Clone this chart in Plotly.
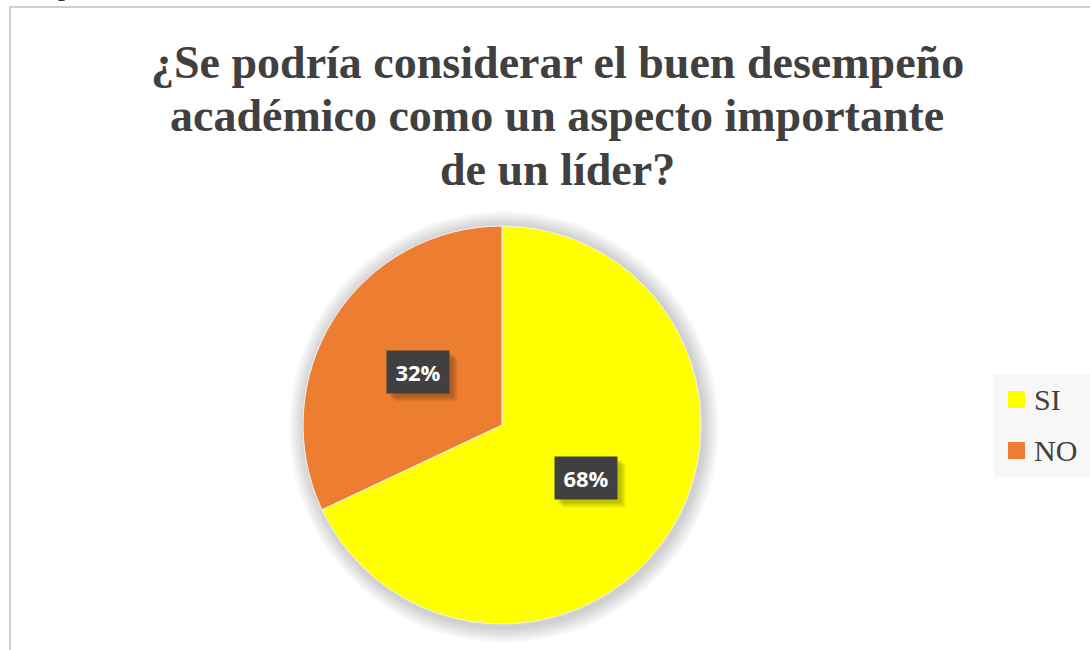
import math
import plotly.graph_objects as go

labels = ["SI", "NO"]
values = [68, 32]
colors = ["#FFFF00", "#ED7D31"]
title_lines = ["¿Se podría considerar el buen desempeño",
               "académico como un aspecto importante",
               "de un líder?"]

W, H = 1090, 650
cx, cy, R = 502, 425, 199  # pie centre/radius in pixels (from top)


def px_x(x):
    return x / W


def px_y(y):
    return (H - y) / H


dom_x = [px_x(cx - R), px_x(cx + R)]
dom_y = [px_y(cy + R), px_y(cy - R)]

fig = go.Figure(go.Pie(
    labels=labels, values=values, sort=False, direction="clockwise", rotation=0,
    marker=dict(colors=colors, line=dict(width=1, color="#F4F4F4")),
    textinfo="none", hoverinfo="label+percent", showlegend=False,
    domain=dict(x=dom_x, y=dom_y),
))

anns = []
shapes = []

# soft shadow around the pie
for dr in range(16, 0, -2):
    shapes.append(dict(type="circle", xref="paper", yref="paper", layer="below",
                       x0=px_x(cx - R - dr + 2), x1=px_x(cx + R + dr + 2),
                       y0=px_y(cy + R + dr + 3), y1=px_y(cy - R - dr + 1),
                       line=dict(width=0), fillcolor="rgba(0,0,0,0.022)"))

# data labels (dark boxes) placed at half radius on slice midpoint angle
total = sum(values)
start = 0.0
for v in values:
    frac = v / total
    mid = (start + frac / 2) * 2 * math.pi
    start += frac
    lx = cx + 0.5 * R * math.sin(mid)
    ly = cy - 0.5 * R * math.cos(mid)
    pct = f"{round(frac * 100)}%"
    for k, a in ((8, 0.07), (6, 0.09), (4, 0.1)):
        anns.append(dict(x=px_x(lx + k), y=px_y(ly + k), xref="paper", yref="paper",
                         xanchor="center", yanchor="middle",
                         text=pct, showarrow=False, bgcolor=f"rgba(0,0,0,{a})",
                         font=dict(family="Open Sans", size=22, color="rgba(0,0,0,0)"),
                         width=48, height=28, borderpad=7))
    anns.append(dict(x=px_x(lx), y=px_y(ly), xref="paper", yref="paper",
                     xanchor="center", yanchor="middle",
                     text=f"<b>{pct}</b>", showarrow=False, bgcolor="#404040",
                     font=dict(family="Open Sans", size=22, color="white"),
                     width=48, height=28, borderpad=7))

# title, one line per annotation
for i, t in enumerate(title_lines):
    anns.append(dict(x=px_x(557), y=px_y(62 + 54 * i), xref="paper", yref="paper",
                     xanchor="center", yanchor="middle", text=f"<b>{t}</b>",
                     showarrow=False,
                     font=dict(family="Liberation Serif", size=46, color="#404040")))

# legend drawn from labels/colors
shapes.append(dict(type="rect", xref="paper", yref="paper", x0=px_x(994), x1=1.01,
                   y0=px_y(477), y1=px_y(374), line=dict(width=0), fillcolor="#F7F7F7"))
for i, (lab, col) in enumerate(zip(labels, colors)):
    yc = 399.5 + 51 * i
    shapes.append(dict(type="rect", xref="paper", yref="paper",
                       x0=px_x(1008), x1=px_x(1025), y0=px_y(yc + 8.5), y1=px_y(yc - 8.5),
                       line=dict(width=0), fillcolor=col))
    anns.append(dict(x=px_x(1032), y=px_y(yc), xref="paper", yref="paper",
                     xanchor="left", yanchor="middle", text=lab, showarrow=False,
                     font=dict(family="Liberation Serif", size=30, color="#404040")))

# caption above the chart, cut off by the page edge
anns.append(dict(x=px_x(36), y=px_y(3), xref="paper", yref="paper", xanchor="left",
                 yanchor="bottom", text="Figura 6", showarrow=False,
                 font=dict(family="Liberation Serif", size=22, color="black")))

# chart border
shapes.append(dict(type="rect", xref="paper", yref="paper",
                   x0=px_x(10), x1=1.02, y0=-0.02, y1=px_y(7),
                   line=dict(color="#BFBFBF", width=1.5), fillcolor="rgba(0,0,0,0)"))

fig.update_layout(
    width=W, height=H,
    margin=dict(l=0, r=0, t=0, b=0),
    paper_bgcolor="white", plot_bgcolor="white",
    annotations=anns, shapes=shapes,
)

fig.write_html("out.html", config={"displayModeBar": False},
               post_script="document.body.style.margin='0';")
